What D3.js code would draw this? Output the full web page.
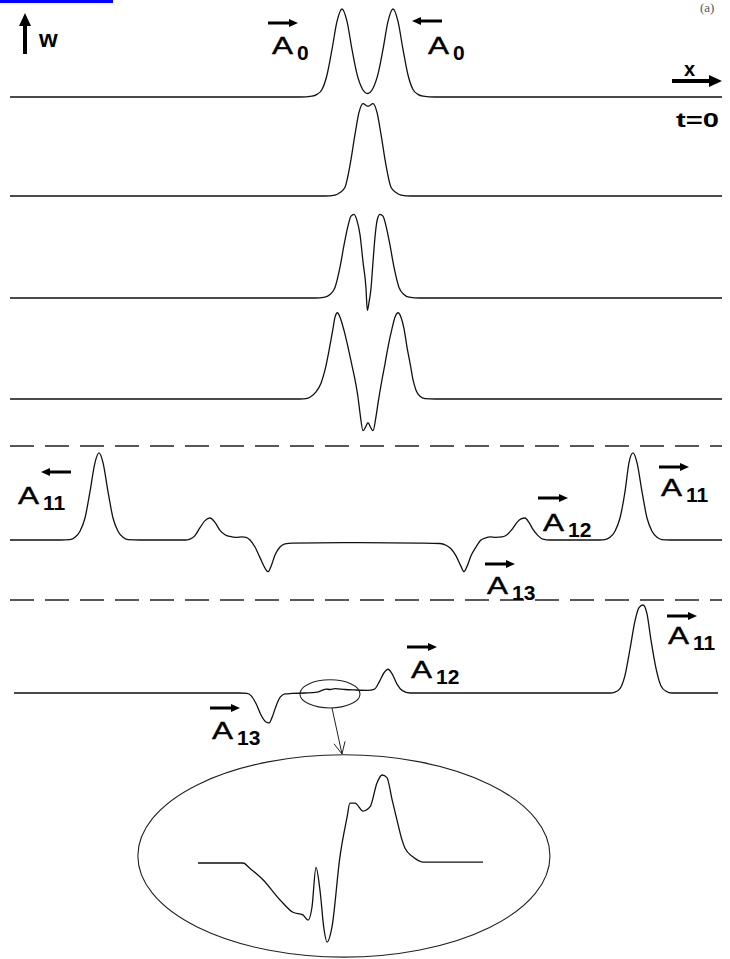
<!DOCTYPE html>
<html>
<head>
<meta charset="utf-8">
<script src="https://cdn.jsdelivr.net/npm/d3@7"></script>
<style>
body { margin: 0; background: #fff; }
svg { display: block; }
</style>
</head>
<body>
<div id="chart"></div>
<script>
// Measurement
var w = 730, h = 959;

// Wave profiles, one per time step: [x, w]
// x in grid units (0 = centre of the domain), w in peak heights
var wave1 = [[-89,0],[-16.5,0],[-13.5,0.01],[-12.25,0.03],[-11,0.085],[-9.75,0.25],[-8.5,0.54],[-7.25,0.86],[-6,1],[-4.75,0.86],[-3.5,0.54],[-2.25,0.26],[-1,0.1],[0.4,0.04],[1.75,0.1],[3,0.26],[4.25,0.54],[5.5,0.86],[6.75,1],[8,0.86],[9.25,0.54],[10.5,0.25],[11.75,0.085],[13,0.03],[14.25,0.01],[17.25,0],[89,0]];

var wave2 = [[-89,0],[-10.25,0],[-7.75,0.01],[-6.5,0.04],[-5.25,0.1],[-4,0.35],[-2.75,0.7],[-1.75,0.95],[-0.75,1.05],[0.5,1.02],[1.75,1.05],[2.75,0.95],[3.75,0.7],[5,0.35],[6.25,0.1],[7.5,0.04],[8.75,0.01],[11.25,0],[89,0]];

var wave3 = [[-89,0],[-12.75,0],[-10.25,0.01],[-9,0.04],[-7.75,0.12],[-6.5,0.35],[-5.5,0.6],[-4.5,0.82],[-3.75,0.93],[-3,0.95],[-2.25,0.88],[-1.5,0.72],[-0.75,0.41],[0,0.11],[0.325,-0.14],[0.75,-0.05],[1.25,0.11],[1.75,0.41],[2.375,0.75],[2.875,0.9],[3.5,0.95],[4.25,0.93],[5,0.82],[6,0.6],[7,0.35],[8.25,0.12],[9.5,0.04],[10.75,0.01],[13.5,0],[89,0]];

var wave4 = [[-89,0],[-16.5,0],[-15,0.005],[-14,0.02],[-12.5,0.08],[-11.25,0.18],[-10.25,0.33],[-9.25,0.55],[-8.25,0.8],[-7.75,0.93],[-7.125,0.98],[-6.5,0.93],[-5.5,0.78],[-4.5,0.59],[-3.5,0.38],[-2.75,0.22],[-2,0.02],[-1.5,-0.16],[-0.75,-0.36],[-0.125,-0.32],[0.5,-0.27],[1.125,-0.32],[1.75,-0.36],[2.5,-0.2],[3,-0.05],[4,0.22],[4.75,0.4],[5.5,0.59],[6.5,0.8],[7.25,0.93],[8,0.98],[8.75,0.93],[9.5,0.8],[10.25,0.59],[11.125,0.38],[11.75,0.22],[12.5,0.1],[13.5,0.03],[14.75,0.005],[17.25,0],[89,0]];

var wave5 = [[-89,0],[-76.5,0],[-74,0.005],[-72.75,0.03],[-71.5,0.1],[-70.25,0.25],[-69,0.55],[-67.75,0.88],[-66.75,0.99],[-65.75,0.88],[-64.5,0.55],[-63.25,0.25],[-62,0.1],[-60.75,0.03],[-59.5,0.005],[-56.5,0],[-45.25,0],[-44,0.01],[-42.75,0.05],[-41.5,0.14],[-40.25,0.22],[-39,0.25],[-37.75,0.2],[-36.5,0.11],[-35.25,0.06],[-34,0.04],[-32.5,0.03],[-31,0.035],[-30,0.03],[-29,0],[-27.75,-0.08],[-26.5,-0.2],[-25.25,-0.32],[-24.5,-0.36],[-23.75,-0.3],[-22.75,-0.17],[-21.5,-0.08],[-20.25,-0.045],[-18.5,-0.035],[-1.5,-0.03],[13.5,-0.035],[18.5,-0.04],[20,-0.06],[21.25,-0.1],[22.5,-0.18],[23.75,-0.3],[24.5,-0.36],[25.25,-0.3],[26.25,-0.18],[27.5,-0.08],[28.75,0],[30,0.025],[31,0.035],[32.5,0.03],[34,0.035],[35.25,0.06],[36.5,0.12],[37.75,0.2],[38.75,0.24],[39.75,0.25],[40.75,0.2],[41.75,0.12],[43,0.05],[44.25,0.01],[46,0],[58.5,0],[59.75,0.005],[61,0.03],[62.25,0.1],[63.5,0.25],[64.75,0.55],[65.75,0.88],[66.75,0.99],[67.75,0.88],[69,0.55],[70.25,0.25],[71.5,0.1],[72.75,0.03],[74,0.005],[76,0],[89,0]];

var wave6 = [[-88,0],[-31.5,0],[-29.75,-0.005],[-28.75,-0.03],[-27.5,-0.12],[-26.25,-0.25],[-25,-0.33],[-24.25,-0.34],[-23.5,-0.28],[-22.5,-0.15],[-21.5,-0.05],[-20.25,-0.01],[-18.5,-0.005],[-15.25,0],[-12.25,0.01],[-11,0.03],[-10,0.045],[-9,0.04],[-7.75,0.05],[-5.25,0.04],[-3,0.035],[0.5,0.03],[2,0.04],[3.25,0.12],[4.5,0.23],[5.5,0.27],[6.5,0.22],[7.75,0.1],[9,0.03],[11,0],[61,0],[62.25,0.01],[63.5,0.05],[64.75,0.2],[66,0.5],[67.25,0.82],[68.25,0.97],[69.25,1],[70.25,0.9],[71.25,0.6],[72.5,0.28],[73.75,0.08],[75,0.02],[76.5,0],[88,0]];

// Magnified view of the circled region of the last step: [x, w]
var insetWave = [[0,0],[15.8,0],[18.2,-0.06],[22.8,-0.19],[28.8,-0.42],[33.3,-0.56],[36.8,-0.59],[38.6,-0.65],[40,-0.5],[41.4,-0.05],[42.8,-0.31],[44.2,-0.75],[45.3,-0.9],[47,-0.73],[49.8,0.07],[52.3,0.52],[53.3,0.68],[55.1,0.68],[57.9,0.59],[60.4,0.64],[62.8,0.91],[64.6,1],[66.3,0.97],[68.1,0.72],[69.8,0.49],[71.6,0.26],[72.6,0.17],[75.4,0.07],[78.9,0.01],[100,0.01]];

var waves = [wave1, wave2, wave3, wave4, wave5, wave6];
var baselines = [97, 196, 298, 399, 540, 693];
var dashY = [446, 600];

// Pulse labels: sub = subscript, dir = arrow direction
var pulseLabels = [
	{ sub: "0",  dir:  1, x: 272, y: 54,  ax: 268, ay: 23 },
	{ sub: "0",  dir: -1, x: 428, y: 54,  ax: 412, ay: 21 },
	{ sub: "11", dir: -1, x: 18,  y: 504, ax: 41,  ay: 472 },
	{ sub: "12", dir:  1, x: 543, y: 531, ax: 538, ay: 498 },
	{ sub: "11", dir:  1, x: 661, y: 496, ax: 659, ay: 467 },
	{ sub: "13", dir:  1, x: 487, y: 594, ax: 485, ay: 564 },
	{ sub: "13", dir:  1, x: 212, y: 739, ax: 210, ay: 708 },
	{ sub: "12", dir:  1, x: 411, y: 678, ax: 407, ay: 647 },
	{ sub: "11", dir:  1, x: 668, y: 644, ax: 667, ay: 616 }
];

// Scaling
var xScale = d3.scaleLinear()
				.domain([-89, 89])
				.range([10, 722]);

function yScaleFor(base) {
	return d3.scaleLinear()
				.domain([0, 1])
				.range([base, base - 88]);
}

var insetX = d3.scaleLinear()
				.domain([0, 100])
				.range([198, 483]);
var insetY = d3.scaleLinear()
				.domain([0, 1])
				.range([863, 775]);

// SVG Container
var svg = d3.select("#chart")
				.append("svg")
				.attr("width", w)
				.attr("height", h);

svg.append("rect")
	.attr("width", w)
	.attr("height", h)
	.attr("fill", "#fff");

// link fragment and figure tag at the top edge
svg.append("rect")
	.attr("x", 0).attr("y", 0)
	.attr("width", 113).attr("height", 3)
	.attr("fill", "#0000ff");

svg.append("text")
	.attr("x", 700).attr("y", 12)
	.attr("font-family", "Liberation Serif, Times New Roman, serif")
	.attr("font-size", 13)
	.attr("fill", "#555")
	.text("(a)");

var font = "Liberation Sans, Arial, sans-serif";

// Waves
waves.forEach(function(data, i) {
	var yScale = yScaleFor(baselines[i]);
	var line = d3.line()
		.x(function(d) { return xScale(d[0]); })
		.y(function(d) { return yScale(d[1]); })
		.curve(d3.curveMonotoneX);

	svg.append("path")
		.datum(data)
		.attr("class", "wave")
		.attr("d", line)
		.attr("fill", "none")
		.attr("stroke", "#111")
		.attr("stroke-width", 1.3);
});

// separators
svg.selectAll(".sep")
	.data(dashY)
	.enter()
	.append("line")
	.attr("class", "sep")
	.attr("x1", xScale(-89))
	.attr("x2", xScale(89))
	.attr("y1", function(d) { return d; })
	.attr("y2", function(d) { return d; })
	.attr("stroke", "#222")
	.attr("stroke-width", 1.5)
	.attr("stroke-dasharray", "24,11");

// Arrows
function hArrow(x0, x1, y, dir, thick, hl, hw) {
	var tip = dir > 0 ? x1 : x0;
	var tail = dir > 0 ? x0 : x1;
	var back = tip - dir * hl;
	svg.append("line")
		.attr("x1", tail).attr("x2", back)
		.attr("y1", y).attr("y2", y)
		.attr("stroke", "#000")
		.attr("stroke-width", thick);
	svg.append("path")
		.attr("d", "M" + tip + "," + y + "L" + back + "," + (y - hw) + "L" + back + "," + (y + hw) + "Z")
		.attr("fill", "#000");
}

pulseLabels.forEach(function(d) {
	hArrow(d.ax, d.ax + 30, d.ay, d.dir, 3, 9, 4);

	var t = svg.append("text")
		.attr("x", d.x)
		.attr("y", d.y)
		.attr("font-family", font)
		.attr("fill", "#000");
	t.append("tspan")
		.attr("font-size", 24)
		.attr("stroke", "#000")
		.attr("stroke-width", 0.4)
		.attr("textLength", 21)
		.attr("lengthAdjust", "spacingAndGlyphs")
		.text("A");
	t.append("tspan")
		.attr("dx", 4)
		.attr("dy", 6)
		.attr("font-size", 21)
		.attr("font-weight", "bold")
		.text(d.sub);
});

// w axis arrow
svg.append("line")
	.attr("x1", 25).attr("x2", 25)
	.attr("y1", 54).attr("y2", 24)
	.attr("stroke", "#000")
	.attr("stroke-width", 4);
svg.append("path")
	.attr("d", "M25,13L19,26L31,26Z")
	.attr("fill", "#000");
svg.append("text")
	.attr("x", 39).attr("y", 47)
	.attr("font-family", font)
	.attr("font-weight", "bold")
	.attr("font-size", 24)
	.text("w");

// x axis arrow
hArrow(672, 722, 81, 1, 4, 13, 6);
svg.append("text")
	.attr("x", 684).attr("y", 76)
	.attr("font-family", font)
	.attr("font-weight", "bold")
	.attr("font-size", 20)
	.text("x");

svg.append("text")
	.attr("x", 676).attr("y", 127)
	.attr("font-family", font)
	.attr("font-weight", "bold")
	.attr("font-size", 20)
	.attr("textLength", 43)
	.attr("lengthAdjust", "spacingAndGlyphs")
	.text("t=0");

// circled region on the last step
var y6 = yScaleFor(baselines[5]);
svg.append("ellipse")
	.attr("cx", xScale(-9))
	.attr("cy", y6(-0.01))
	.attr("rx", xScale(-1.5) - xScale(-9))
	.attr("ry", y6(0) - y6(0.16))
	.attr("fill", "none")
	.attr("stroke", "#222")
	.attr("stroke-width", 1.1);

// pointer to the magnified view
var p0 = [332, 708], p1 = [342, 754];
svg.append("line")
	.attr("x1", p0[0]).attr("y1", p0[1])
	.attr("x2", p1[0]).attr("y2", p1[1])
	.attr("stroke", "#222")
	.attr("stroke-width", 1);
var ang = Math.atan2(p1[1] - p0[1], p1[0] - p0[0]);
[-0.45, 0.45].forEach(function(a) {
	svg.append("line")
		.attr("x1", p1[0]).attr("y1", p1[1])
		.attr("x2", p1[0] - 13 * Math.cos(ang + a))
		.attr("y2", p1[1] - 13 * Math.sin(ang + a))
		.attr("stroke", "#222")
		.attr("stroke-width", 1);
});

// magnified view
svg.append("ellipse")
	.attr("cx", insetX(51.2))
	.attr("cy", insetY(0.08))
	.attr("rx", insetX(51.2 + 72.3) - insetX(51.2))
	.attr("ry", insetY(0) - insetY(1.15))
	.attr("fill", "none")
	.attr("stroke", "#222")
	.attr("stroke-width", 1.1);

var insetLine = d3.line()
	.x(function(d) { return insetX(d[0]); })
	.y(function(d) { return insetY(d[1]); })
	.curve(d3.curveMonotoneX);

svg.append("path")
	.datum(insetWave)
	.attr("d", insetLine)
	.attr("fill", "none")
	.attr("stroke", "#111")
	.attr("stroke-width", 1.3);
</script>
</body>
</html>
